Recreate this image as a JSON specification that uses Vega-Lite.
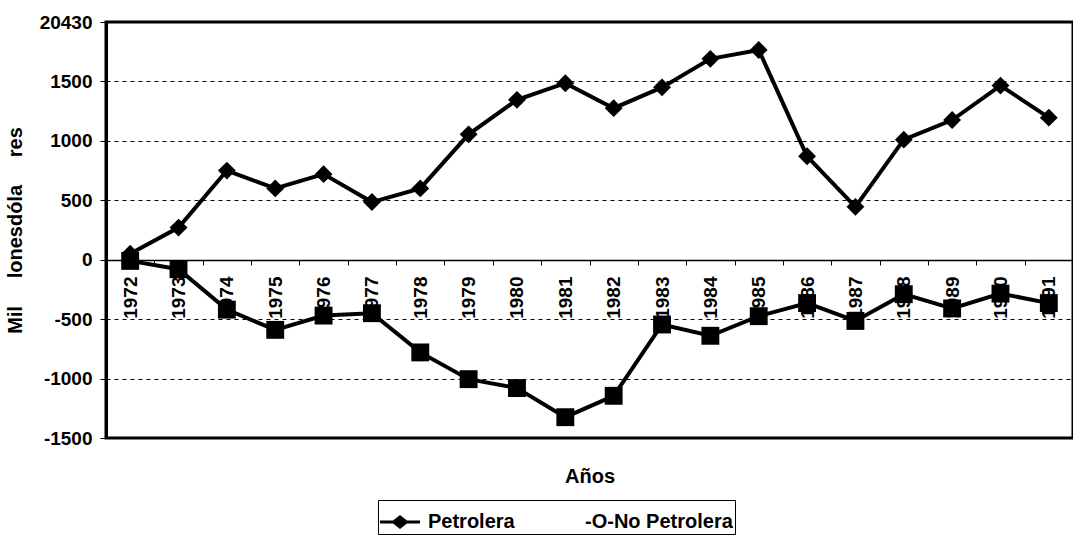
{
  "$schema": "https://vega.github.io/schema/vega-lite/v6.json",
  "width": 967,
  "height": 416,
  "autosize": {"type": "none"},
  "padding": {"left": 106, "top": 22, "right": 0, "bottom": 102},
  "background": "white",
  "config": {
    "view": {"stroke": "black", "strokeWidth": 3},
    "font": "Liberation Sans"
  },
  "data": {
    "values": [
      {"year": 1972, "serie": "Petrolera", "value": 50},
      {"year": 1973, "serie": "Petrolera", "value": 270},
      {"year": 1974, "serie": "Petrolera", "value": 750},
      {"year": 1975, "serie": "Petrolera", "value": 600},
      {"year": 1976, "serie": "Petrolera", "value": 720},
      {"year": 1977, "serie": "Petrolera", "value": 485},
      {"year": 1978, "serie": "Petrolera", "value": 600},
      {"year": 1979, "serie": "Petrolera", "value": 1055},
      {"year": 1980, "serie": "Petrolera", "value": 1345},
      {"year": 1981, "serie": "Petrolera", "value": 1485},
      {"year": 1982, "serie": "Petrolera", "value": 1275},
      {"year": 1983, "serie": "Petrolera", "value": 1450},
      {"year": 1984, "serie": "Petrolera", "value": 1690},
      {"year": 1985, "serie": "Petrolera", "value": 1765},
      {"year": 1986, "serie": "Petrolera", "value": 870},
      {"year": 1987, "serie": "Petrolera", "value": 445},
      {"year": 1988, "serie": "Petrolera", "value": 1010},
      {"year": 1989, "serie": "Petrolera", "value": 1175},
      {"year": 1990, "serie": "Petrolera", "value": 1465},
      {"year": 1991, "serie": "Petrolera", "value": 1195},
      {"year": 1972, "serie": "No Petrolera", "value": -10},
      {"year": 1973, "serie": "No Petrolera", "value": -80},
      {"year": 1974, "serie": "No Petrolera", "value": -420},
      {"year": 1975, "serie": "No Petrolera", "value": -590},
      {"year": 1976, "serie": "No Petrolera", "value": -470},
      {"year": 1977, "serie": "No Petrolera", "value": -450},
      {"year": 1978, "serie": "No Petrolera", "value": -780},
      {"year": 1979, "serie": "No Petrolera", "value": -1005},
      {"year": 1980, "serie": "No Petrolera", "value": -1080},
      {"year": 1981, "serie": "No Petrolera", "value": -1325},
      {"year": 1982, "serie": "No Petrolera", "value": -1145},
      {"year": 1983, "serie": "No Petrolera", "value": -545},
      {"year": 1984, "serie": "No Petrolera", "value": -640},
      {"year": 1985, "serie": "No Petrolera", "value": -475},
      {"year": 1986, "serie": "No Petrolera", "value": -365},
      {"year": 1987, "serie": "No Petrolera", "value": -515},
      {"year": 1988, "serie": "No Petrolera", "value": -290},
      {"year": 1989, "serie": "No Petrolera", "value": -410},
      {"year": 1990, "serie": "No Petrolera", "value": -285},
      {"year": 1991, "serie": "No Petrolera", "value": -365}
    ]
  },
  "encoding": {
    "x": {
      "field": "year",
      "type": "ordinal",
      "scale": {"paddingInner": 0, "paddingOuter": 0},
      "axis": {
        "title": "Años",
        "titleY": 206,
        "titleBaseline": "top",
        "titleFont": "Liberation Sans",
        "titleFontSize": 20,
        "titleFontWeight": "bold",
        "titleColor": "black",
        "orient": "bottom",
        "offset": -178,
        "labelAngle": -90,
        "labelFont": "Liberation Sans",
        "labelFontSize": 19,
        "labelFontWeight": "bold",
        "labelColor": "black",
        "labelPadding": 11,
        "tickBand": "extent",
        "tickColor": "black",
        "tickSize": 5,
        "domainColor": "black",
        "domainWidth": 1.5
      }
    },
    "y": {
      "field": "value",
      "type": "quantitative",
      "scale": {"domain": [-1500, 2000], "nice": false, "zero": false},
      "axis": {
        "title": "Mil\u00a0\u00a0\u00a0\u00a0\u00a0lonesdóla\u00a0\u00a0\u00a0\u00a0\u00a0res",
        "values": [-1500, -1000, -500, 0, 500, 1000, 1500, 2000],
        "labelExpr": "datum.value == 2000 ? '20430' : '' + datum.value",
        "labelFont": "Liberation Sans",
        "labelFontSize": 19,
        "labelFontWeight": "bold",
        "labelColor": "black",
        "labelPadding": 8,
        "tickSize": 6,
        "tickColor": "black",
        "grid": true,
        "gridDash": [4, 4],
        "gridColor": "black",
        "gridWidth": 1,
        "domainColor": "black",
        "domainWidth": 3,
        "titleFont": "Liberation Sans",
        "titleFontSize": 20,
        "titleFontWeight": "bold",
        "titleColor": "black",
        "titlePadding": 14
      }
    }
  },
  "layer": [
    {
      "mark": {"type": "line", "color": "black", "strokeWidth": 4},
      "encoding": {"detail": {"field": "serie", "type": "nominal"}}
    },
    {
      "mark": {"type": "point", "filled": true, "color": "black", "opacity": 1, "size": 320},
      "encoding": {
        "shape": {
          "field": "serie",
          "type": "nominal",
          "scale": {"domain": ["Petrolera", "No Petrolera"], "range": ["diamond", "square"]},
          "legend": null
        }
      }
    },
    {
      "transform": [{"filter": "false"}],
      "mark": {"type": "point", "filled": true, "color": "black", "opacity": 1},
      "encoding": {
        "shape": {
          "field": "serie",
          "type": "nominal",
          "scale": {
            "domain": ["Petrolera", "No Petrolera"],
            "range": ["M-1,-0.07H-0.35L0,-0.35L0.35,-0.07H1V0.07H0.35L0,0.35L-0.35,0.07H-1Z", "M0,0Z"]
          },
          "legend": {
            "orient": "none",
            "legendX": 272,
            "legendY": 478,
            "direction": "horizontal",
            "title": null,
            "symbolSize": 1600,
            "symbolOpacity": 1,
            "symbolFillColor": "black",
            "symbolStrokeColor": "black",
            "symbolStrokeWidth": 0,
            "labelFont": "Liberation Sans",
            "labelFontSize": 20,
            "labelFontWeight": "bold",
            "labelColor": "black",
            "labelOffset": 8,
            "columnPadding": 22,
            "padding": 2,
            "strokeColor": "black",
            "labelExpr": "datum.value == 'No Petrolera' ? '-O-No Petrolera' : datum.label",
            "encode": {
              "legend": {
                "width": {"value": 432},
                "height": {"value": 70}
              }
            }
          }
        }
      }
    }
  ],
  "resolve": {"scale": {"shape": "independent"}, "legend": {"shape": "independent"}}
}
